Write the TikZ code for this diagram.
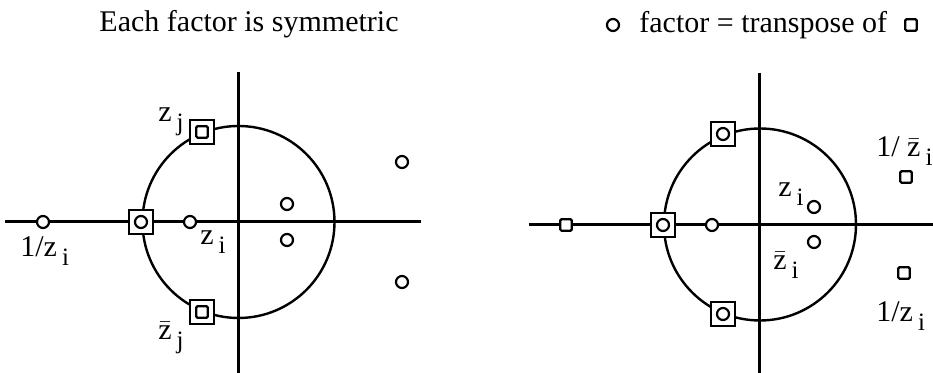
\documentclass[tikz,border=0pt]{standalone}
\usepackage{fontspec}
\setmainfont{Liberation Serif}
\newcommand{\idx}[1]{\kern2.5pt\raisebox{-4.5pt}{\fontsize{12.5}{12}\selectfont #1}}
\newcommand{\zbar}{$\bar{\mbox{z}}$}
\begin{document}
\begin{tikzpicture}[x=0.5pt, y=-0.5pt,
  axis/.style={line width=1.5pt},
  unit/.style={line width=1.2pt},
  zero/.style={circle, draw, fill=white, line width=1.1pt, minimum size=6pt, inner sep=0pt},
  pole/.style={rectangle, draw, fill=white, line width=1.1pt, minimum size=5.8pt, rounded corners=0.7pt, inner sep=0pt},
  pair/.style={rectangle, draw, fill=white, line width=1.3pt, minimum size=12pt, inner sep=0pt},
  lab/.style={font=\fontsize{15}{18}\selectfont, inner sep=0pt, anchor=base west}
]
\useasboundingbox (0,0) rectangle (933,373);

% left panel
\node[lab, anchor=base] (Ltitle) at (249,32) {Each factor is symmetric};
\coordinate (Lo) at (238.5,222);
\coordinate (Lwest) at (5,222);
\coordinate (Least) at (421,222);
\coordinate (Lnorth) at (238,72);
\coordinate (Lsouth) at (238,373);
\draw[axis] (Lwest) -- (Least);
\draw[axis] (Lnorth) -- (Lsouth);
\draw[unit] (Lo) circle[radius=48pt];

\node[zero] (Lrecip) at (43,222) {};
\node[pair] (Lrealbox) at (141,222) {};
\node[zero] (Lreal) at (Lrealbox) {};
\node[zero] (Lzi) at (190,222) {};
\node[pair] (Lzjbox) at (202,132) {};
\node[pole] (Lzj) at (Lzjbox) {};
\node[pair] (Lzjbarbox) at (202,312) {};
\node[pole] (Lzjbar) at (Lzjbarbox) {};
\foreach \name/\px/\py in {Lin1/287/204, Lin2/287/240, Lout1/402/162, Lout2/402/282}
  \node[zero] (\name) at (\px,\py) {};

\node[lab] (Lrecipl) at (20,257) {1/z\idx{i}};
\node[lab] (Lzil) at (200,245) {z\idx{i}};
\node[lab] (Lzjl) at (158,122) {z\idx{j}};
\node[lab] (Lzjbarl) at (158,340) {\zbar\idx{j}};

% right panel
\node[zero] (Rkeyzero) at (613,25) {};
\node[lab] (Rtitle) at (639,33) {factor = transpose of};
\node[pole] (Rkeypole) at (911,25) {};
\coordinate (Ro) at (760,224.5);
\coordinate (Rwest) at (529,225);
\coordinate (Reast) at (933,225);
\coordinate (Rnorth) at (759,73);
\coordinate (Rsouth) at (759,373);
\draw[axis] (Rwest) -- (Reast);
\draw[axis] (Rnorth) -- (Rsouth);
\draw[unit] (Ro) circle[radius=48pt];

\node[pole] (Rrecip) at (566,225) {};
\node[pair] (Rrealbox) at (663,225) {};
\node[zero] (Rreal) at (Rrealbox) {};
\node[zero] (Rzi) at (712,225) {};
\node[pair] (Rtopbox) at (723,134) {};
\node[zero] (Rtop) at (Rtopbox) {};
\node[pair] (Rbotbox) at (723,314) {};
\node[zero] (Rbot) at (Rbotbox) {};
\node[zero] (Rin1) at (814,207) {};
\node[zero] (Rin2) at (814,242) {};
\node[pole] (Rout1) at (906,177) {};
\node[pole] (Rout2) at (904,273) {};

\node[lab] (Rin1l) at (778,197) {z\idx{i}};
\node[lab] (Rin2l) at (773,270) {\zbar\idx{i}};
\node[lab] (Rout1l) at (876,157) {1/ \zbar\idx{i}};
\node[lab] (Rout2l) at (876,322) {1/z\idx{i}};
\end{tikzpicture}
\end{document}
